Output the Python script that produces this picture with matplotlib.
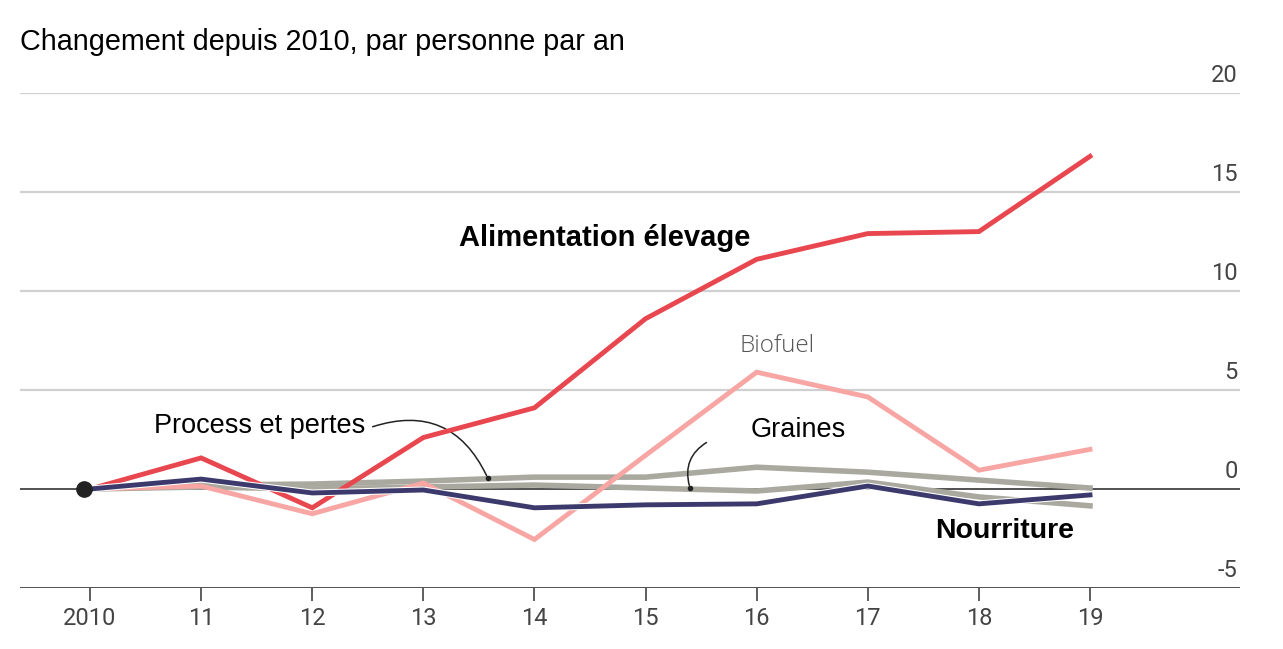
import matplotlib
matplotlib.use("Agg")
import matplotlib.pyplot as plt
import matplotlib.patheffects as pe

# données
annees = [2010, 2011, 2012, 2013, 2014, 2015, 2016, 2017, 2018, 2019]
etiquettes_x = ["2010", "11", "12", "13", "14", "15", "16", "17", "18", "19"]

alimentation_elevage = [0, 1.57, -0.95, 2.6, 4.1, 8.6, 11.6, 12.9, 13.0, 16.8]
biofuel = [0, 0.15, -1.25, 0.3, -2.55, 1.7, 5.9, 4.65, 0.95, 2.0]
nourriture = [0, 0.5, -0.2, -0.05, -0.95, -0.8, -0.75, 0.15, -0.75, -0.3]
process_pertes = [0, 0.2, 0.25, 0.4, 0.6, 0.6, 1.1, 0.85, 0.45, 0.05]
graines = [0, 0.1, 0.0, 0.1, 0.2, 0.05, -0.1, 0.35, -0.4, -0.85]

ticks_y = [-5, 0, 5, 10, 15, 20]

ROUGE = "#e8474f"
ROSE = "#f7a6a4"
MARINE = "#3c3a6c"
GRIS = "#aaa99f"

plt.rcParams['font.family'] = ['Liberation Sans', 'DejaVu Sans']

fig = plt.figure(figsize=(12.83, 6.49), dpi=100)
ax = fig.add_axes([20 / 1283, 1 - 588 / 649, 1220 / 1283, 495 / 649])
ax.set_xlim(2009.37, 2020.35)
ax.set_ylim(-5, 20)

# grille
for v in ticks_y:
    if v in (-5, 0):
        ax.axhline(v, color="#333333", lw=1.2, zorder=1)
    else:
        ax.axhline(v, color="#d0d0d0", lw=1.6, zorder=0)
    ax.text(2020.33, v + 0.86, str(v), ha="right", va="center", fontsize=17,
            color="#444444", fontfamily="Roboto")

# lignes
ax.plot(annees, graines, color=GRIS, lw=4.0, zorder=2, solid_joinstyle="miter")
ax.plot(annees, process_pertes, color=GRIS, lw=4.0, zorder=2, solid_joinstyle="miter")
ax.plot(annees, biofuel, color=ROSE, lw=3.5, zorder=3, solid_joinstyle="miter")
ax.plot(annees, alimentation_elevage, color=ROUGE, lw=3.5, zorder=4, solid_joinstyle="miter")
ax.plot(annees, nourriture, color=MARINE, lw=3.5, zorder=5, solid_joinstyle="miter",
        path_effects=[pe.Stroke(linewidth=5.0, foreground="white"), pe.Normal()])
ax.plot([2009.95], [0], "o", color="#222222", ms=11, zorder=6)

# étiquettes
ax.text(2014.63, 12.7, "Alimentation élevage", ha="center", va="center",
        fontsize=21, fontweight="bold")
ax.text(2016.18, 7.2, "Biofuel", ha="center", va="center", fontsize=17.5,
        color="#555555", fontfamily="Open Sans", fontweight="light")
ax.text(2011.53, 3.2, "Process et pertes", ha="center", va="center", fontsize=19.5)
ax.text(2016.37, 3.0, "Graines", ha="center", va="center", fontsize=19.5)
ax.text(2018.23, -2.1, "Nourriture", ha="center", va="center",
        fontsize=20.5, fontweight="bold")

ax.annotate("", xy=(2013.58, 0.55), xytext=(2012.52, 3.1),
            arrowprops=dict(arrowstyle="-", color="#222222", lw=1.1,
                            connectionstyle="arc3,rad=-0.45"))
ax.plot([2013.58], [0.55], "o", color="#222222", ms=3, zorder=6)
ax.annotate("", xy=(2015.4, 0.05), xytext=(2015.57, 2.42),
            arrowprops=dict(arrowstyle="-", color="#222222", lw=1.1,
                            connectionstyle="arc3,rad=0.4"))
ax.plot([2015.4], [0.05], "o", color="#222222", ms=3, zorder=6)

# axe des x
for s in ax.spines.values():
    s.set_visible(False)
ax.set_yticks([])
ax.set_xticks(annees)
ax.set_xticklabels(etiquettes_x, fontsize=17, color="#444444", fontfamily="Roboto")
ax.tick_params(axis="x", length=9, width=1.1, color="#333333", pad=5)

fig.text(20 / 1283, 1 - 42 / 649, "Changement depuis 2010, par personne par an",
         ha="left", va="center", fontsize=20.7)

fig.savefig("out.png", dpi=100, facecolor="white")
